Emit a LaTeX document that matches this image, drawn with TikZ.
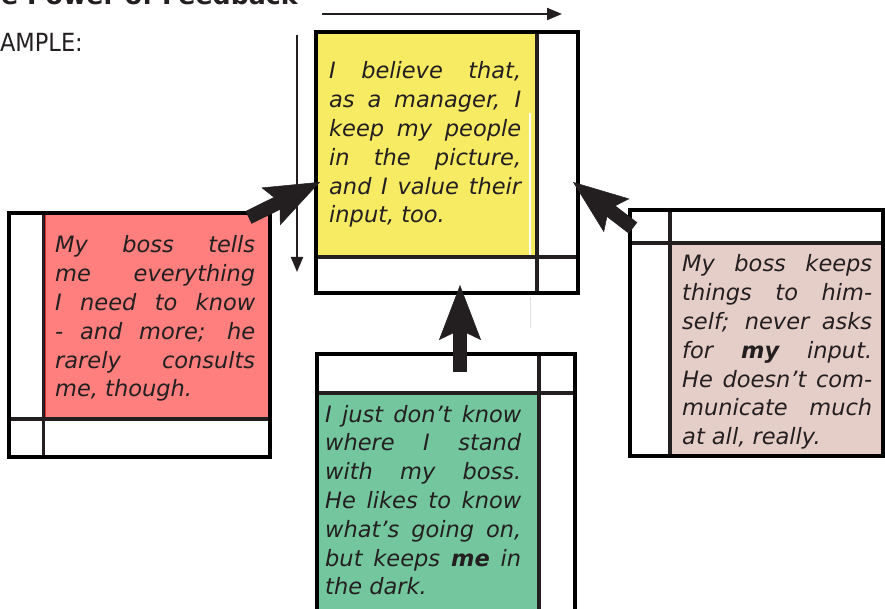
\documentclass[tikz,border=0pt]{standalone}
\usepackage{graphicx}
\usepackage{fontspec}
\setmainfont{DejaVu Sans}[ItalicFont={DejaVu Sans Oblique},BoldFont={DejaVu Sans Bold},BoldItalicFont={DejaVu Sans Bold Oblique}]
\usetikzlibrary{arrows.meta}
\definecolor{ink}{HTML}{231F20}
\definecolor{yel}{HTML}{F6EB63}
\definecolor{redf}{HTML}{FF7F7F}
\definecolor{redl}{HTML}{E0282C}
\definecolor{grn}{HTML}{74C69E}
\definecolor{bei}{HTML}{E6CEC8}
\newcommand{\jl}[1]{\makebox[\linewidth][s]{#1}\par}
\tikzset{
  frame/.style={draw=black, line width=4pt, inner sep=0pt, outer sep=0pt, anchor=north west},
  divider/.style={draw=ink, line width=3.5pt},
  txt/.style={anchor=base west, inner sep=0pt, text=ink, font=\fontsize{22.5}{28.8}\selectfont\itshape},
  block/.style={draw=ink, line width=14pt, -{Stealth[length=55pt,width=42pt,inset=10pt,line width=0.5pt]}},
  thinarrow/.style={draw=ink, line width=2pt, -{Triangle[length=15pt,width=12pt]}},
}
\begin{document}
\begin{tikzpicture}[x=1pt,y=-1pt]
\useasboundingbox (0,0) rectangle (885,609);
\clip (0,0) rectangle (885,609);

% title and label
\node[anchor=base east, inner sep=0pt, text=ink, font=\fontsize{25.3}{30}\selectfont\bfseries] (title) at (298,5) {The Power of Feedback};
\node[anchor=base east, inner sep=0pt, text=ink] (example) at (83,52) {\scalebox{0.9}[1]{\fontsize{25}{30}\selectfont EXAMPLE:}};

% fills
\fill[yel] (318,34) rectangle (536,257);
\filldraw[fill=redf, draw=redl, line width=1pt] (45,214) rectangle (268,418);
\fill[grn] (319,395) rectangle (537,612);
\fill[bei] (672,245) rectangle (881,456);
\draw[white, line width=1.2pt] (530,113) -- (530,255);
\draw[black!12, line width=1pt] (530,297) -- (530,328);

% dividers
\draw[divider] (537,30) -- (537,295);
\draw[divider] (314,257) -- (580,257);
\draw[divider] (43.5,211) -- (43.5,459);
\draw[divider] (7,419) -- (272,419);
\draw[divider] (670,208) -- (670,458);
\draw[divider] (628,243) -- (885,243);
\draw[divider] (539,352) -- (539,612);
\draw[divider] (315,393) -- (577,393);

% frames
\node[frame, minimum width=262pt, minimum height=261pt] (Y) at (316,32) {};
\node[frame, minimum width=261pt, minimum height=244pt] (R) at (9,213) {};
\node[frame, minimum width=253pt, minimum height=246pt] (B) at (630,210) {};
\node[frame, minimum width=258pt, minimum height=270pt] (G) at (317,354) {};

% texts
\node[txt] (Yt) at (329,79) {\parbox[t]{192pt}{%
\jl{I believe that,}
\jl{as a manager, I}
\jl{keep my people}
\jl{in the picture,}
\jl{and I value their}
input, too.}};
\node[txt] (Rt) at (55,253) {\parbox[t]{200pt}{%
\jl{My boss tells}
\jl{me everything}
\jl{I need to know}
\jl{- and more; he}
\jl{rarely consults}
me, though.}};
\node[txt] (Gt) at (325,422) {\parbox[t]{196pt}{%
\jl{I just don’t know}
\jl{where I stand}
\jl{with my boss.}
\jl{He likes to know}
\jl{what’s going on,}
\jl{but keeps \textbf{me} in}
the dark.}};
\node[txt] (Bt) at (682,272) {\parbox[t]{190pt}{%
\jl{My boss keeps}
\jl{things to him-}
\jl{self; never asks}
\jl{for \textbf{my} input.}
\jl{He doesn’t com-}
\jl{municate much}
at all, really.}};

% arrows
\coordinate (Ltail) at (248.5,217.5);
\coordinate (Ltip) at (320,182);
\coordinate (Rtail) at (633,228);
\coordinate (Rtip) at (573,182);
\coordinate (Utail) at (460,372);
\coordinate (Utip) at (460,285);
\coordinate (Hs) at (322,14);
\coordinate (He) at (562,14);
\coordinate (Vs) at (297,35);
\coordinate (Ve) at (297,272);
\draw[block] (Ltail) -- (Ltip);
\draw[block] (Rtail) -- (Rtip);
\draw[block] (Utail) -- (Utip);
\draw[thinarrow] (Hs) -- (He);
\draw[thinarrow] (Vs) -- (Ve);
\end{tikzpicture}
\end{document}
